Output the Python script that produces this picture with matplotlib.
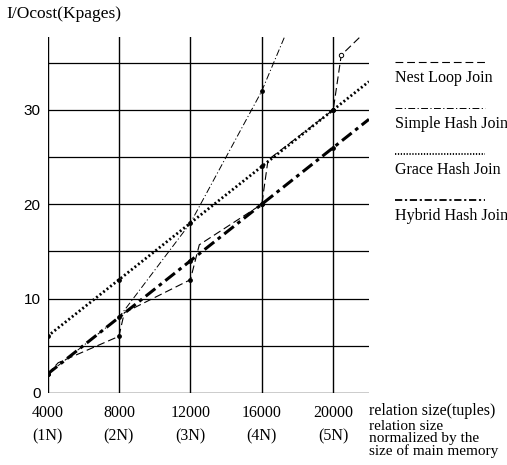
import matplotlib
matplotlib.use("Agg")
import matplotlib.pyplot as plt
import numpy as np

# relation size (tuples) at the grid lines
sizes = [4000, 8000, 12000, 16000, 20000]
size_labels = ["(1N)", "(2N)", "(3N)", "(4N)", "(5N)"]

# I/O cost in Kpages
nest_x = [4000, 4600, 8000, 8300, 12000, 12500, 16000, 16350, 20000, 20450, 21650]
nest_y = [2, 3.2, 6, 8.5, 12, 15.7, 20, 24.7, 30, 35.8, 38]
simple_x = [4000, 8000, 12000, 16000, 20000]
simple_y = [2, 8, 18, 32, 50]
grace_x = [4000, 8000, 12000, 16000, 20000, 22000]
grace_y = [6, 12, 18, 24, 30, 33]
hybrid_x = [4000, 8000, 12000, 16000, 20000, 22000]
hybrid_y = [2, 8, 14, 20, 26, 29]

names = ["Nest Loop Join", "Simple Hash Join", "Grace Hash Join", "Hybrid Hash Join"]

serif = "Liberation Serif"

fig = plt.figure(figsize=(5.07, 4.65), dpi=100)
ax = fig.add_axes([0.0937, 0.155, 0.634, 0.765])
ax.set_xlim(4000, 22000)
ax.set_ylim(0, 37.7)

# grid
for x in sizes:
    ax.axvline(x, color="black", lw=1.0, zorder=1)
for y in [5, 10, 15, 20, 25, 30, 35]:
    ax.axhline(y, color="black", lw=0.9, zorder=1)
ax.axhline(0, color="black", lw=1.0, zorder=1)

styles = [
    dict(ls=(0, (7, 3.5)), lw=0.8),
    dict(ls=(0, (7, 2.5, 1.2, 2.5)), lw=0.7),
    dict(ls=(0, (0.7, 0.9)), lw=2.0),
    dict(ls=(0, (4, 1.5, 1.2, 1.5)), lw=2.2),
]
series = [(nest_x, nest_y), (simple_x, simple_y), (grace_x, grace_y), (hybrid_x, hybrid_y)]
for (xs, ys), st in zip(series, styles):
    ax.plot(xs, ys, color="black", zorder=3, **st)

# dots at measured points
dots_x = [4000, 8000, 12000, 16000, 20000] * 3 + [16000]
dots_y = [6, 12, 18, 24, 30] + [2, 8, 14, 20, 26] + [2, 6, 12, 20, 30] + [32]
ax.scatter(dots_x, dots_y, s=6, color="black", zorder=4)
ax.scatter([20450], [35.8], s=10, facecolor="white", edgecolor="black", lw=0.7, zorder=5)

for s in ["top", "right", "bottom", "left"]:
    ax.spines[s].set_visible(False)

ax.set_xticks(sizes)
ax.set_xticklabels([f"{s}\n{l}" for s, l in zip(sizes, size_labels)],
                   family=serif, fontsize=11.5, linespacing=1.55)
ax.set_yticks([0, 10, 20, 30])
ax.set_yticklabels(["0", "10", "20", "30"], family="Liberation Sans", fontsize=11)
ax.tick_params(axis="x", length=0, pad=9)
ax.tick_params(axis="y", length=0, pad=5)

fig.text(0.012, 1 - 14 / 465, "I/Ocost(Kpages)", family=serif, fontsize=12.5, va="center")
fig.text(369 / 507, 1 - 411 / 465, "relation size(tuples)", family=serif, fontsize=11.5, va="center")
fig.text(369 / 507, 1 - 420 / 465, "relation size\nnormalized by the\nsize of main memory",
         family=serif, fontsize=11, va="top", linespacing=0.92)

# legend drawn beside the plot
line_y = [62, 108, 154, 200]
for i, (nm, st) in enumerate(zip(names, styles)):
    yl = 1 - line_y[i] / 465
    yt = 1 - (line_y[i] + 16) / 465
    fig.add_artist(plt.Line2D([395 / 507, 485 / 507], [yl, yl], color="black",
                              ls=st["ls"], lw=min(st["lw"], 1.3)))
    fig.text(395 / 507, yt, nm, family=serif, fontsize=11.5, va="center")

fig.savefig("out.png", dpi=100)
